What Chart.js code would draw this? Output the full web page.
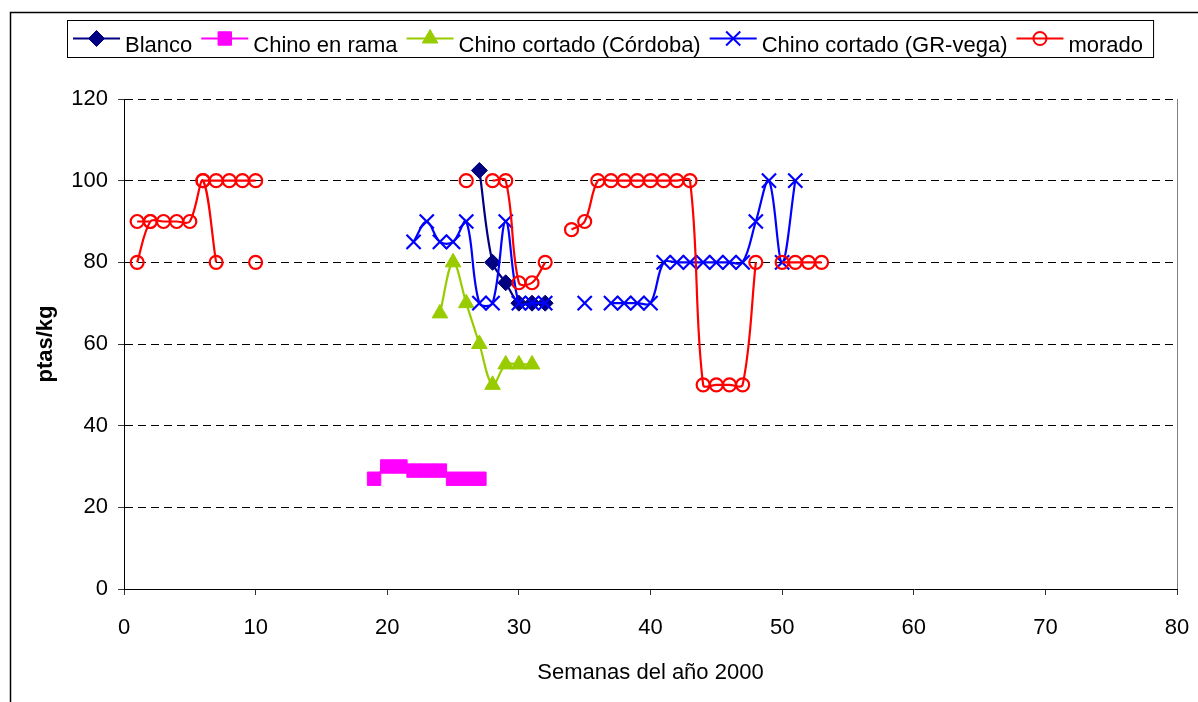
<!DOCTYPE html>
<html>
<head>
<meta charset="utf-8">
<script src="https://cdn.jsdelivr.net/npm/chart.js@4.4.1/dist/chart.umd.min.js"></script>
<style>
    html, body { margin: 0; padding: 0; background: #fff; }
    #wrap { width: 1198px; height: 702px; }
</style>
</head>
<body>
<div id="wrap"><canvas id="chart" width="1198" height="702"></canvas></div>
<script>
// Week of the year (x) and price in ptas/kg (y). A null marks a break in the line.
const blancoWeeks  = [27, 28, 29, 30, 31, 32];
const blancoPrices = [102.5, 80, 75, 70, 70, 70];

const ramaWeeks  = [19, 20, 21, 22, 23, 24, 25, 26, 27];
const ramaPrices = [27, 30, 30, 29, 29, 29, 27, 27, 27];

const cordobaWeeks  = [24, 25, 26, 27, 28, 29, 30, 31];
const cordobaPrices = [67.5, 80, 70, 60, 50, 55, 55, 55];

const vegaWeeks  = [22, 23, 24, 25, 26, 27, 28, 29, 30, 31, 32, null, 35, null,
                    37, 38, 39, 40, 41, 42, 43, 44, 45, 46, 47, 48, 49, 50, 51];
const vegaPrices = [85, 90, 85, 85, 90, 70, 70, 90, 70, 70, 70, null, 70, null,
                    70, 70, 70, 70, 80, 80, 80, 80, 80, 80, 80, 90, 100, 80, 100];

const moradoWeeks  = [1, 2, 3, 4, 5, 6, 7, null, 1, 2, null, 6, 7, 8, 9, 10, null, 10, null,
                      26, null, 28, 29, 30, 31, 32, null,
                      34, 35, 36, 37, 38, 39, 40, 41, 42, 43, 44, 45, 46, 47, 48, null,
                      50, 51, 52, 53];
const moradoPrices = [80, 90, 90, 90, 90, 100, 80, null, 90, 90, null, 100, 100, 100, 100, 100, null, 80, null,
                      100, null, 100, 100, 75, 75, 80, null,
                      88, 90, 100, 100, 100, 100, 100, 100, 100, 100, 50, 50, 50, 50, 80, null,
                      80, 80, 80, 80];

const xTicks = { min: 0, max: 80, step: 10 };
const yTicks = { min: 0, max: 120, step: 20 };

const FONT = '"Liberation Sans", Arial, sans-serif';

const series = [
    { label: 'Blanco',                  weeks: blancoWeeks,  prices: blancoPrices,  color: '#000080', style: 'rectRot',  radius: 8,   filled: true },
    { label: 'Chino en rama',           weeks: ramaWeeks,    prices: ramaPrices,    color: '#FF00FF', style: 'rect',     radius: 9.5, filled: true },
    { label: 'Chino cortado (Córdoba)', weeks: cordobaWeeks, prices: cordobaPrices, color: '#99CC00', style: 'triangle', radius: 9,   filled: true },
    { label: 'Chino cortado (GR-vega)', weeks: vegaWeeks,    prices: vegaPrices,    color: '#0000FF', style: 'crossRot', radius: 10,  filled: false },
    { label: 'morado',                  weeks: moradoWeeks,  prices: moradoPrices,  color: '#FF0000', style: 'circle',   radius: 6.5, filled: false }
];

const toPoints = (weeks, prices) =>
    weeks.map((w, i) => ({ x: w === null ? weeks[i - 1] : w, y: prices[i] }));

const datasets = series.map((s, i) => ({
    label: s.label,
    data: toPoints(s.weeks, s.prices),
    borderColor: s.color,
    borderWidth: 2.2,
    tension: 0.35,
    pointStyle: s.style,
    pointRadius: s.radius,
    pointBorderColor: s.color,
    pointBackgroundColor: s.filled ? s.color : 'rgba(0,0,0,0)',
    pointBorderWidth: s.filled ? 1 : 2.2,
    order: series.length - i   // later series drawn on top, like the original
}));

// Small marker drawer for the legend.
const drawMarker = (ctx, s, x, y) => {
    ctx.save();
    ctx.fillStyle = s.filled ? s.color : 'rgba(0,0,0,0)';
    ctx.strokeStyle = s.color;
    ctx.lineWidth = s.filled ? 1 : 2;
    if (Chart.helpers && Chart.helpers.drawPoint) {
        Chart.helpers.drawPoint(ctx, { pointStyle: s.style, radius: s.radius, rotation: 0, borderWidth: ctx.lineWidth }, x, y);
    }
    ctx.restore();
};

// Boxed legend with line + marker samples, plus the outer frame.
const framePlugin = {
    id: 'frame',
    afterDraw(chart) {
        const { ctx, chartArea } = chart;
        ctx.save();

        // Outer chart frame (only left and top edges fall inside the picture)
        ctx.strokeStyle = '#000';
        ctx.lineWidth = 1.5;
        ctx.strokeRect(10.5, 12.5, 1400, 900);

        // Right edge of the plot area
        ctx.strokeStyle = '#808080';
        ctx.lineWidth = 1;
        ctx.beginPath();
        ctx.moveTo(Math.round(chartArea.right) + 0.5, chartArea.top);
        ctx.lineTo(Math.round(chartArea.right) + 0.5, chartArea.bottom);
        ctx.stroke();

        // Legend
        ctx.font = '22px ' + FONT;
        ctx.textBaseline = 'alphabetic';
        const boxLeft = 67, boxTop = 20, boxH = 37;
        const sampleW = 47, textGap = 5, itemGap = 9, padL = 6, padR = 10;
        const lineY = 38.5, baseY = 52;
        let x = boxLeft + padL;
        series.forEach((s, i) => {
            ctx.strokeStyle = s.color;
            ctx.lineWidth = 2.2;
            ctx.beginPath();
            ctx.moveTo(x, lineY);
            ctx.lineTo(x + sampleW, lineY);
            ctx.stroke();
            drawMarker(ctx, s, x + sampleW / 2, lineY);
            x += sampleW + textGap;
            ctx.fillStyle = '#000';
            ctx.fillText(s.label, x, baseY);
            x += ctx.measureText(s.label).width;
            if (i < series.length - 1) x += itemGap;
        });
        const boxRight = x + padR;
        ctx.strokeStyle = '#000';
        ctx.lineWidth = 1;
        ctx.strokeRect(boxLeft + 0.5, boxTop + 0.5, boxRight - boxLeft, boxH);

        ctx.restore();
    }
};

Chart.defaults.font.family = FONT;
Chart.defaults.color = '#000';

new Chart(document.getElementById('chart'), {
    type: 'line',
    data: { datasets },
    options: {
        responsive: false,
        animation: false,
        devicePixelRatio: 1,
        layout: { padding: { top: 99, right: 21, left: 0, bottom: 0 } },
        plugins: {
            legend: { display: false },
            tooltip: { enabled: false }
        },
        scales: {
            x: {
                type: 'linear',
                min: xTicks.min,
                max: xTicks.max,
                ticks: { stepSize: xTicks.step, font: { size: 22 }, color: '#000', padding: 20 },
                grid: { drawOnChartArea: false, drawTicks: true, tickLength: 6, tickColor: '#333' },
                border: { display: true, color: '#000', width: 1 },
                title: {
                    display: true,
                    text: 'Semanas del año 2000',
                    font: { size: 22 },
                    color: '#000',
                    padding: { top: 0, bottom: 16 }
                },
                afterFit(scale) {
                    scale.height = 113;
                    scale.paddingLeft = 0;
                    scale.paddingRight = 0;
                }
            },
            y: {
                type: 'linear',
                min: yTicks.min,
                max: yTicks.max,
                ticks: { stepSize: yTicks.step, font: { size: 22 }, color: '#000', padding: 10 },
                grid: { color: '#000', lineWidth: 1, drawTicks: true, tickLength: 6, tickColor: '#333' },
                border: { display: true, color: '#000', width: 1, dash: [8, 5] },
                title: {
                    display: true,
                    text: 'ptas/kg',
                    font: { size: 22, weight: 'bold' },
                    color: '#000',
                    padding: { top: 33, bottom: 0 }
                },
                afterFit(scale) {
                    scale.width = 124;
                    scale.paddingTop = 0;
                    scale.paddingBottom = 0;
                }
            }
        }
    },
    plugins: [framePlugin]
});
</script>
</body>
</html>
